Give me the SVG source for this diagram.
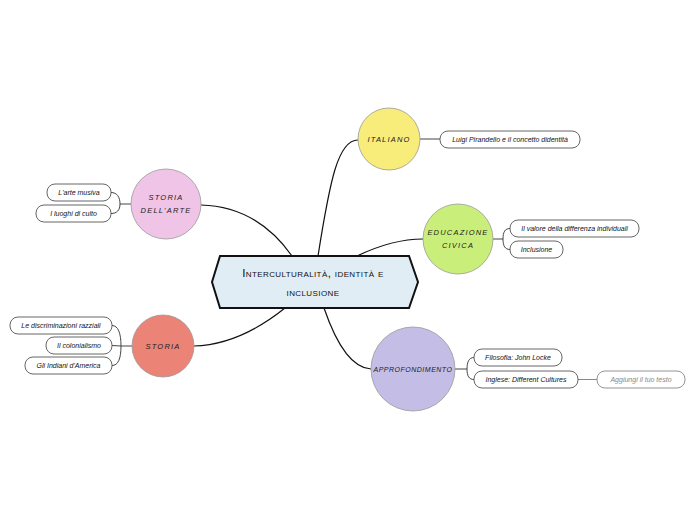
<svg xmlns="http://www.w3.org/2000/svg" width="696" height="520" viewBox="0 0 696 520">
<style>
.bg{fill:#ffffff}
.main{fill:none;stroke:#111;stroke-width:1.2}
.sub{fill:none;stroke:#444;stroke-width:1}
.subg{fill:none;stroke:#888;stroke-width:1}
.circ{stroke:#999;stroke-width:0.8}
.leaf{fill:#fff;stroke:#555;stroke-width:0.9}
.leafg{fill:#fff;stroke:#888;stroke-width:0.9}
.t{font-family:"Liberation Sans",Arial,sans-serif;font-style:italic;font-size:7px;fill:#111;text-anchor:middle}
.tg{fill:#888}
.c{font-family:"Liberation Sans",Arial,sans-serif;font-style:italic;font-size:7.5px;fill:#222;text-anchor:middle;letter-spacing:1.2px}
.title{font-family:"Liberation Sans",Arial,sans-serif;font-variant:small-caps;font-size:11.5px;letter-spacing:0.4px;fill:#111;text-anchor:middle}
</style>
<rect class="bg" x="0" y="0" width="696" height="520"/>
<g id="connectors">
<path class="main" d="M318,256 C330,180 338,140 358,140"/>
<path class="main" d="M357,256 C380,245 400,239 423,239"/>
<path class="main" d="M324,308 C335,340 350,368 371,369"/>
<path class="main" d="M292,256 C270,225 240,206 201,205"/>
<path class="main" d="M285,308 C260,328 230,345 194,346"/>
<path class="sub" d="M420,139 L440,139"/>
<path class="sub" d="M493,239 L503,239 M503,239 C503,232 505,228.5 510,228.5 M503,239 C503,246 505,249.5 510,249.5"/>
<path class="sub" d="M455,369 L467,369 M467,369 C467,362 469,357.5 474,357.5 M467,369 C467,376 469,379.5 474,379.5"/>
<path class="subg" d="M578,379.5 L597,379.5"/>
<path class="sub" d="M131,204 L120,204 M120,204 C120,197 117,192.5 111,192.5 M120,204 C120,210 117,213.5 111,213.5"/>
<path class="sub" d="M132,346 L121,346 M121,346 C121,333 118,325.5 112,325.5 M121,346 L112,345.5 M121,346 C121,359 118,365.5 112,365.5"/>
</g>
<g id="central">
<polygon points="212,282 220,256 409,256 418,282 409,308 220,308" fill="#e1edf4" stroke="#111" stroke-width="2"/>
<text class="title" x="313" y="277">Interculturalità, identità e</text>
<text class="title" x="313" y="296">inclusione</text>
</g>
<g id="italiano">
<circle class="circ" cx="389" cy="139" r="31" fill="#f8ec7a"/>
<text class="c" x="389" y="142">ITALIANO</text>
</g>
<g id="leaf-pirandello">
<rect class="leaf" x="440" y="131" width="140" height="17" rx="8"/>
<text class="t" x="510" y="142">Luigi Pirandello e il concetto didentità</text>
</g>
<g id="educazione">
<circle class="circ" cx="458" cy="239" r="35" fill="#c9ef7a"/>
<text class="c" x="458" y="235">EDUCAZIONE</text>
<text class="c" x="458" y="248">CIVICA</text>
</g>
<g id="leaf-valore">
<rect class="leaf" x="510" y="220" width="129" height="17" rx="8"/>
<text class="t" x="574.5" y="231">Il valore della differenza individuali</text>
</g>
<g id="leaf-inclusione">
<rect class="leaf" x="510" y="241" width="53" height="17" rx="8"/>
<text class="t" x="536.5" y="252">Inclusione</text>
</g>
<g id="approfondimento">
<circle class="circ" cx="413" cy="369" r="42" fill="#c4bde6"/>
<text class="c" x="413" y="372" style="letter-spacing:0.5px;font-size:7px">APPROFONDIMENTO</text>
</g>
<g id="leaf-filosofia">
<rect class="leaf" x="474" y="349" width="88" height="17" rx="8"/>
<text class="t" x="518" y="360">Filosofia: John Locke</text>
</g>
<g id="leaf-inglese">
<rect class="leaf" x="474" y="371" width="104" height="17" rx="8"/>
<text class="t" x="526" y="382">Inglese: Different Cultures</text>
</g>
<g id="leaf-aggiungi">
<rect class="leafg" x="597" y="371" width="88" height="17" rx="8"/>
<text class="t tg" x="641" y="382">Aggiungi il tuo testo</text>
</g>
<g id="storia-arte">
<circle class="circ" cx="166" cy="204" r="35" fill="#f0c4e6"/>
<text class="c" x="166" y="200">STORIA</text>
<text class="c" x="166" y="213">DELL'ARTE</text>
</g>
<g id="leaf-musiva">
<rect class="leaf" x="47" y="184" width="64" height="17" rx="8"/>
<text class="t" x="79" y="195">L'arte musiva</text>
</g>
<g id="leaf-culto">
<rect class="leaf" x="36" y="205" width="75" height="17" rx="8"/>
<text class="t" x="73.5" y="216">I  luoghi di culto</text>
</g>
<g id="storia">
<circle class="circ" cx="163" cy="346" r="31" fill="#ec8377"/>
<text class="c" x="163" y="349">STORIA</text>
</g>
<g id="leaf-discriminazioni">
<rect class="leaf" x="10" y="317" width="102" height="17" rx="8"/>
<text class="t" x="61" y="328">Le discriminazioni razziali</text>
</g>
<g id="leaf-colonialismo">
<rect class="leaf" x="46" y="337" width="66" height="17" rx="8"/>
<text class="t" x="79" y="348">Il colonialismo</text>
</g>
<g id="leaf-indiani">
<rect class="leaf" x="25" y="357" width="87" height="17" rx="8"/>
<text class="t" x="68.5" y="368">Gli Indiani d'America</text>
</g>
</svg>
